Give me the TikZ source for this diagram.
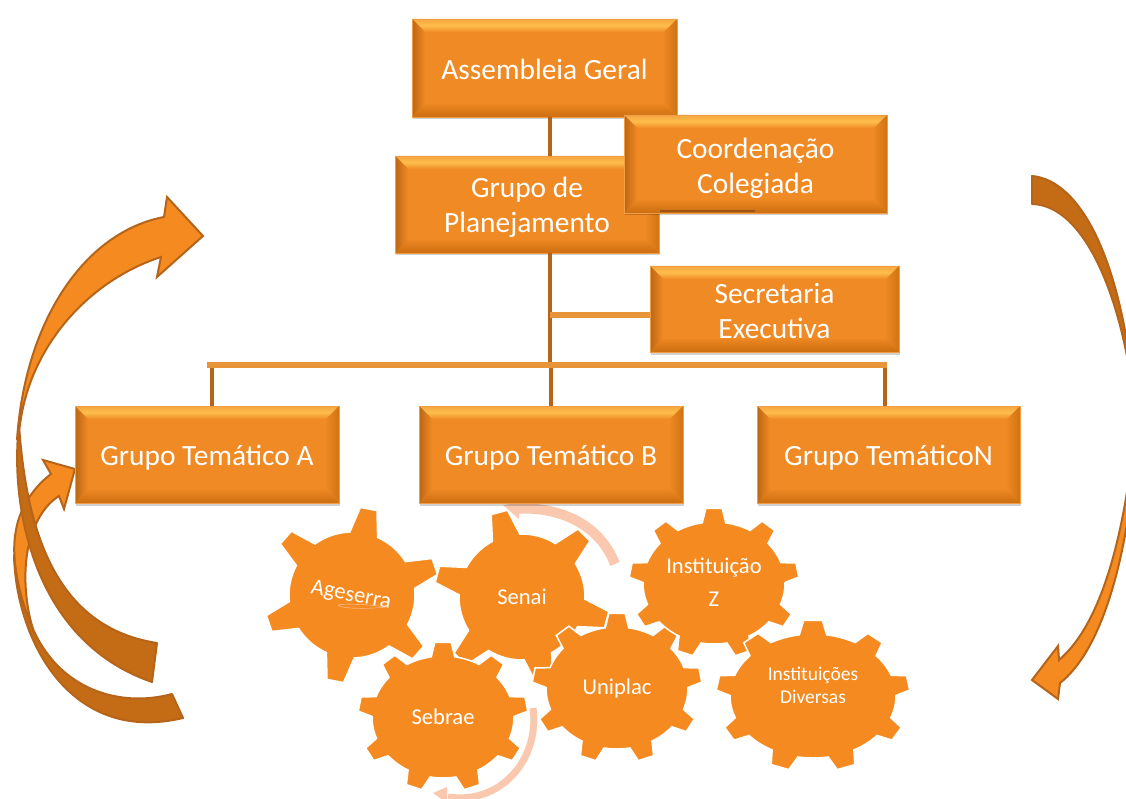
\documentclass[tikz,border=0pt]{standalone}
\usepackage{fontspec}
\setmainfont{Carlito}
\usetikzlibrary{shadows}
\definecolor{gearor}{HTML}{F58B20}
\definecolor{ardark}{HTML}{C46C15}
\definecolor{arline}{HTML}{B5641A}
\definecolor{paleor}{HTML}{F9C8AE}
\definecolor{boxor}{HTML}{F08A24}
\definecolor{connd}{HTML}{B5641A}
\definecolor{connl}{HTML}{E8953A}
\definecolor{F4top}{HTML}{F4A63F}
\definecolor{F4mid}{HTML}{FFBE4C}
\definecolor{F4left}{HTML}{BC6612}
\definecolor{F4bot}{HTML}{CC6E10}
\definecolor{F4right}{HTML}{CF7312}
\newcommand{\gearshape}[9]{%
  \begin{scope}[shift={(#1,#2)},y=1pt]
    \fill[gearbody] (#7-#8:#3 and #4)
      foreach \k in {0,...,\numexpr#6-1\relax} {
        -- (#7+\k*360/#6-#8:#3 and #4)
        -- (#7+\k*360/#6-#9:#3+#5 and #4+#5)
        -- (#7+\k*360/#6+#9:#3+#5 and #4+#5)
        -- (#7+\k*360/#6+#8:#3 and #4)
        foreach \f in {0.12,0.25,0.38,0.5,0.62,0.75,0.88} {
          -- (#7+\k*360/#6+#8+\f*360/#6-\f*2*#8:#3 and #4)
        }
      } -- cycle;
  \end{scope}}
\tikzset{
  gearbody/.style={fill=gearor,draw=white,line width=1.5pt,line join=miter},
  gearlabel/.style={text=white,align=center,inner sep=0pt,font=\fontsize{22.6}{33}\selectfont},
  toprule/.style={execute at begin node={\rule{0pt}{#1pt}}},
  bevelbox/.style={rectangle,fill=boxor,draw=boxor!85!white,line width=.5pt,text=white,align=center,inner sep=0pt,
    font=\fontsize{29.4}{35}\selectfont,
    drop shadow={shadow xshift=1pt,shadow yshift=-2.5pt,fill=black,opacity=.18},
    path picture={
      \path (path picture bounding box.north west) coordinate (pnw)
            (path picture bounding box.north east) coordinate (pne)
            (path picture bounding box.south west) coordinate (psw)
            (path picture bounding box.south east) coordinate (pse);
      \shade[top color=F4top,bottom color=boxor,middle color=F4mid] (pnw)--(pne)--([xshift=-13pt,yshift=-13pt]pne)--([xshift=13pt,yshift=-13pt]pnw)--cycle;
      \shade[left color=F4left,right color=boxor] (pnw)--([xshift=13pt,yshift=-13pt]pnw)--([xshift=13pt,yshift=13pt]psw)--(psw)--cycle;
      \shade[top color=boxor!90!F4left,bottom color=F4bot] (psw)--([xshift=13pt,yshift=13pt]psw)--([xshift=-13pt,yshift=13pt]pse)--(pse)--cycle;
      \shade[left color=boxor!95!F4left,right color=F4right] (pne)--([xshift=-13pt,yshift=-13pt]pne)--([xshift=-13pt,yshift=13pt]pse)--(pse)--cycle;
    }},
  vconn/.style={draw=connd,line width=4.5pt},
  hconn/.style={draw=connl,line width=5.5pt},
  arrowlight/.style={fill=gearor,draw=arline,line width=2pt,line join=miter},
  arrowdark/.style={fill=ardark,draw=arline,line width=2pt,line join=round},
  palearc/.style={draw=paleor,line cap=butt},
  palehead/.style={fill=paleor},
}
\begin{document}
\begin{tikzpicture}[x=1pt,y=-1pt]
\useasboundingbox (0,0) rectangle (1126,799);
\clip (0,0) rectangle (1126,799);
% pale rotation arcs behind gears
\draw[palearc,line width=10pt] (615,564) .. controls (600,525) and (560,505) .. (512,509);
\fill[palehead] (503,505) -- (519,503) -- (519,519) -- cycle;
\draw[palearc,line width=7pt] (533,708) .. controls (540,760) and (500,805) .. (448,797);
\fill[palehead] (433,793) -- (447,787) -- (447,803) -- cycle;
% gears
\gearshape{352}{595}{63}{63}{25}{6}{19}{13}{5.5}
\gearshape{522}{597}{63}{63}{25}{6}{45}{13}{5.5}
\gearshape{443}{717}{71}{61}{14}{9}{90}{9.5}{5.5}
\gearshape{617}{688}{71}{61}{14}{9}{90}{9.5}{5.5}
\gearshape{714}{583}{71}{61}{14}{9}{90}{9.5}{5.5}
\gearshape{813}{696}{83}{62}{14}{9}{90}{9.5}{5.5}
\node[gearlabel,rotate=-11] (age) at (351,596) {Ageserra};
\draw[paleor,line width=.4pt] (338,605) .. controls (345,603) and (375,605) .. (386,607) .. controls (370,609) and (340,609) .. (338,605);
\node[gearlabel] (sen) at (522,597) {Senai};
\node[gearlabel] (seb) at (443,717) {Sebrae};
\node[gearlabel] (uni) at (617,688) {Uniplac};
\node[gearlabel] (zed) at (714,582) {Instituição\\Z};
\node[gearlabel,font=\fontsize{19.5}{23}\selectfont] (div) at (813,685) {Instituições\\Diversas};
% left arrows
\path[arrowlight] (51,474) -- (43,460) -- (75,469) -- (64,509) -- (59,496)
  .. controls (45,505) and (36,520) .. (30,540)
  .. controls (23,565) and (24,600) .. (33,629)
  .. controls (20,600) and (10,560) .. (16,530)
  .. controls (19,512) and (30,490) .. (51,474) -- cycle;
\path[arrowdark] (14,555) .. controls (16,640) and (70,745) .. (183,718) -- (172,694)
  .. controls (120,708) and (60,690) .. (33,629)
  .. controls (22,605) and (16,580) .. (14,555) -- cycle;
\path[arrowlight] (164,217) -- (167,197) -- (203,236) -- (157,277) -- (161,257)
  .. controls (90,280) and (30,345) .. (20,425)
  -- (17,440)
  .. controls (25,320) and (85,232) .. (164,217) -- cycle;
\path[arrowdark] (19,425) .. controls (10,500) and (30,640) .. (152,682) -- (157,643)
  .. controls (60,628) and (27,540) .. (19,425) -- cycle;
% right arrow
\path[arrowlight] (1136,420) .. controls (1136,500) and (1115,640) .. (1060,683)
  -- (1058,699) -- (1032,680) -- (1058,646) -- (1059,660)
  .. controls (1100,625) and (1125,540) .. (1136,420) -- cycle;
\path[arrowdark] (1032,176) .. controls (1080,180) and (1125,260) .. (1136,420)
  .. controls (1125,300) and (1085,205) .. (1032,204) -- cycle;
% boxes
\node[bevelbox,toprule=23,minimum width=265pt,minimum height=98pt] (ag) at (544.5,68) {Assembleia Geral};
\node[bevelbox,toprule=61,minimum width=264pt,minimum height=97pt] (gp) at (527,204.5) {Grupo de\\Planejamento};
\node[bevelbox,toprule=64,minimum width=263pt,minimum height=98pt] (cc) at (755.5,164) {Coordenação\\Colegiada};
\node[bevelbox,toprule=59,minimum width=249pt,minimum height=86pt] (sec) at (774.5,309) {Secretaria\\Executiva};
\node[bevelbox,toprule=27,minimum width=264pt,minimum height=97pt] (ga) at (207,454.5) {Grupo Temático A};
\node[bevelbox,toprule=27,minimum width=264pt,minimum height=97pt] (gb) at (551,454.5) {Grupo Temático B};
\node[bevelbox,toprule=27,minimum width=263pt,minimum height=97pt] (gn) at (888.5,454.5) {Grupo TemáticoN};
% connectors
\coordinate (trunk) at (550,300);
\coordinate (secJoin) at (650,315);
\coordinate (busY) at (550,365);
\coordinate (busL) at (207,365);
\coordinate (busR) at (887,365);
\coordinate (dropA) at (212,365);
\coordinate (dropB) at (551,365);
\coordinate (dropN) at (885,365);
\coordinate (ccA) at (660,211);
\coordinate (ccB) at (755,211);
\draw[vconn] (ag.south -| trunk) -- (gp.north -| trunk);
\draw[vconn] (gp.south -| trunk) -- (busY);
\draw[hconn] (trunk |- secJoin) -- (sec.west |- secJoin);
\draw[vconn] (dropA) -- (ga.north -| dropA);
\draw[vconn] (dropB) -- (gb.north -| dropB);
\draw[vconn] (dropN) -- (gn.north -| dropN);
\draw[hconn] (busL) -- (busR);
\draw[draw=connd!85!black,line width=2.5pt] (ccA) -- (ccB);
\end{tikzpicture}
\end{document}
